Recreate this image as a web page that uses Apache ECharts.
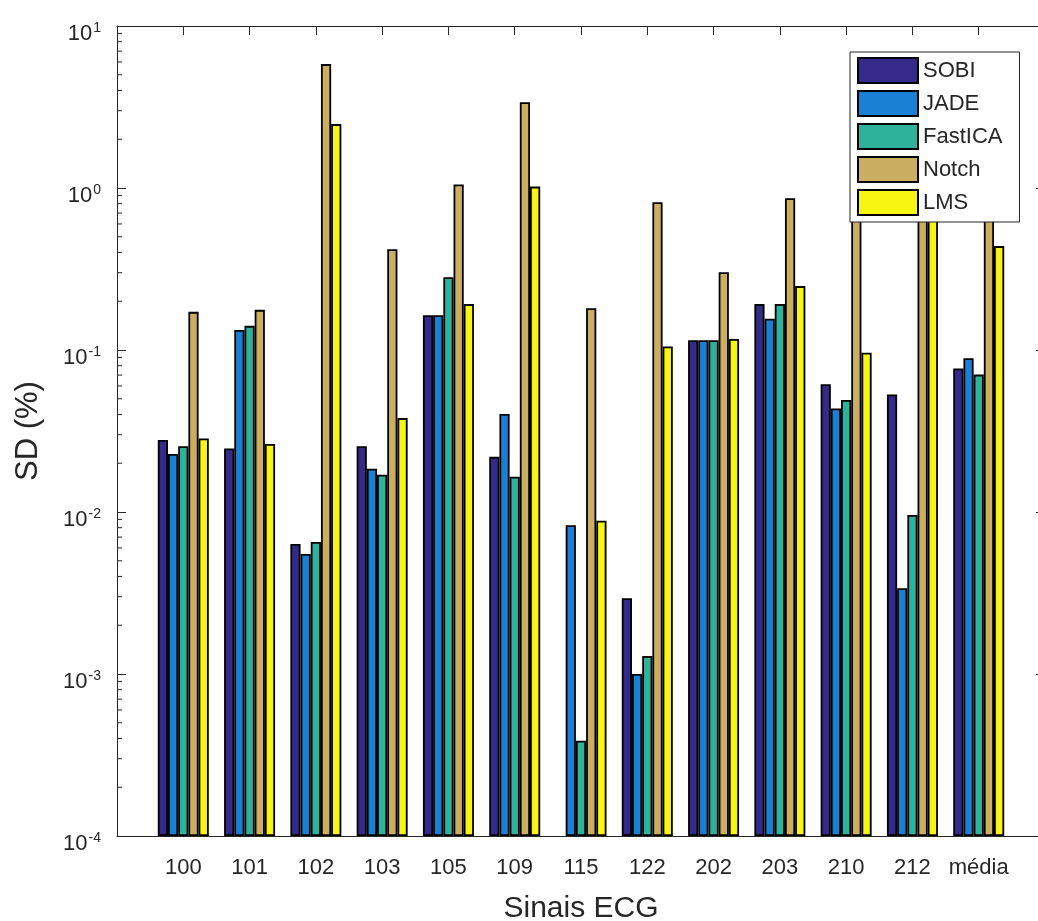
<!DOCTYPE html>
<html>
<head>
<meta charset="utf-8">
<script src="https://cdn.jsdelivr.net/npm/echarts@6/dist/echarts.min.js"></script>
<style>
  html, body { margin: 0; padding: 0; background: #ffffff; }
  #chart { width: 1038px; height: 921px; }
</style>
</head>
<body>
<div id="chart"></div>
<script>
// ECG records on the x axis (the last group is the mean over all records)
const signals = ['100', '101', '102', '103', '105', '109', '115', '122', '202', '203', '210', '212', 'média'];

// SD (%) per method and record
const sobi    = [0.0278, 0.0247, 0.00634, 0.0255, 0.164, 0.0219, null,     0.00294, 0.115, 0.192, 0.0614, 0.0532,  0.077];
const jade    = [0.0228, 0.133,  0.00550, 0.0185, 0.164, 0.0403, 0.00828,  0.00100, 0.115, 0.156, 0.0436, 0.00338, 0.0889];
const fastica = [0.0255, 0.141,  0.00653, 0.0170, 0.281, 0.0165, 0.000387, 0.00129, 0.115, 0.192, 0.0491, 0.00958, 0.0705];
const notch   = [0.172,  0.177,  5.82,    0.419,  1.05,  3.38,   0.181,    0.816,   0.302, 0.864, 1.10,   1.30,    1.30];
const lms     = [0.0284, 0.0263, 2.48,    0.0380, 0.192, 1.02,   0.00883,  0.105,   0.117, 0.248, 0.0962, 0.90,    0.438];

const methodNames = ['SOBI', 'JADE', 'FastICA', 'Notch', 'LMS'];
const methodValues = [sobi, jade, fastica, notch, lms];
const methodColors = ['#35298A', '#1A80D4', '#2FB29C', '#CCAE60', '#F8F512'];

// log-axis decades and the minor tick multipliers inside each decade
const decades = [1e-4, 1e-3, 1e-2, 1e-1, 1];
const minorSteps = [2, 3, 4, 5, 6, 7, 8, 9];

const axisColor = '#262626';
const fontFamily = '"Liberation Sans", Arial, Helvetica, sans-serif';

// One empty slot on each side, so the groups sit at 1..13 on a 0..14 range
const categories = [''].concat(signals, ['']);
const pad = arr => [null].concat(arr, [null]);

const minorTickData = [];
decades.forEach(d => minorSteps.forEach(m => minorTickData.push([0, d * m])));

const barSeries = methodNames.map((name, i) => ({
  name: name,
  type: 'bar',
  xAxisIndex: 0,
  yAxisIndex: 0,
  data: pad(methodValues[i]),
  barWidth: 10.2,
  barGap: '0%',
  z: 2,
  itemStyle: { color: methodColors[i], borderColor: '#000000', borderWidth: 1.8 },
  emphasis: { disabled: true }
}));

// "10" with the exponent raised beside it
const expLabel = v => {
  const e = Math.round(Math.log10(v));
  return '{b|10}{s|' + e + '}';
};

const yAxisBase = {
  type: 'log',
  logBase: 10,
  min: 1e-4,
  max: 10,
  startValue: 1e-4,
  splitLine: { show: false },
  minorTick: { show: false },
  axisLine: { show: true, lineStyle: { color: axisColor, width: 1 } },
  axisTick: { show: true, inside: true, length: 9, lineStyle: { color: axisColor, width: 1 } }
};

const option = {
  animation: false,
  backgroundColor: '#ffffff',
  textStyle: { fontFamily: fontFamily },
  grid: { left: 117, top: 26, width: 928, height: 810, containLabel: false, outerBoundsMode: 'none' },
  legend: {
    data: methodNames,
    orient: 'vertical',
    left: 850,
    top: 52,
    icon: 'rect',
    itemWidth: 60,
    itemHeight: 25,
    itemGap: 6,
    padding: [5, 17, 6, 7],
    backgroundColor: '#ffffff',
    borderColor: axisColor,
    borderWidth: 1,
    selectedMode: false,
    z: 10,
    textStyle: { fontSize: 22, color: axisColor, fontFamily: fontFamily, padding: [0, 0, 0, 0] }
  },
  xAxis: [
    {
      type: 'category',
      data: categories,
      boundaryGap: false,
      position: 'bottom',
      name: 'Sinais ECG',
      nameLocation: 'middle',
      nameGap: 58,
      nameTextStyle: { fontSize: 30, color: axisColor, fontFamily: fontFamily },
      axisLine: { show: true, onZero: false, lineStyle: { color: axisColor, width: 1 } },
      axisTick: { show: true, inside: true, length: 9, interval: 0, lineStyle: { color: axisColor } },
      axisLabel: { interval: 0, fontSize: 22, margin: 21, color: axisColor, fontFamily: fontFamily },
      splitLine: { show: false }
    },
    {
      type: 'category',
      data: categories,
      boundaryGap: false,
      position: 'top',
      axisLine: { show: true, onZero: false, lineStyle: { color: axisColor, width: 1 } },
      axisTick: { show: true, inside: true, length: 9, interval: 0, lineStyle: { color: axisColor } },
      axisLabel: { show: false },
      splitLine: { show: false }
    }
  ],
  yAxis: [
    Object.assign({}, yAxisBase, {
      position: 'left',
      name: 'SD (%)',
      nameLocation: 'middle',
      nameGap: 73,
      nameTextStyle: { fontSize: 31, color: axisColor, fontFamily: fontFamily },
      axisLabel: {
        margin: 16,
        color: axisColor,
        formatter: expLabel,
        rich: {
          b: { fontSize: 22, height: 22, lineHeight: 38, verticalAlign: 'bottom', color: axisColor, fontFamily: fontFamily },
          s: { fontSize: 14, height: 14, lineHeight: 14, padding: [14, 0, 0, 1], verticalAlign: 'top', color: axisColor, fontFamily: fontFamily }
        }
      }
    }),
    Object.assign({}, yAxisBase, {
      position: 'right',
      axisLabel: { show: false }
    })
  ],
  series: barSeries.concat([{
    name: 'minor-ticks',
    type: 'custom',
    xAxisIndex: 0,
    yAxisIndex: 0,
    data: minorTickData,
    silent: true,
    z: 1,
    clip: false,
    renderItem: function (params, api) {
      const y = api.coord([0, api.value(1)])[1];
      const cs = params.coordSys;
      const st = { stroke: axisColor, lineWidth: 1 };
      return {
        type: 'group',
        children: [
          { type: 'line', shape: { x1: cs.x, y1: y, x2: cs.x + 5, y2: y }, style: st },
          { type: 'line', shape: { x1: cs.x + cs.width, y1: y, x2: cs.x + cs.width - 5, y2: y }, style: st }
        ]
      };
    }
  }])
};

const chart = echarts.init(document.getElementById('chart'), null, { renderer: 'canvas' });
chart.setOption(option);
</script>
</body>
</html>
